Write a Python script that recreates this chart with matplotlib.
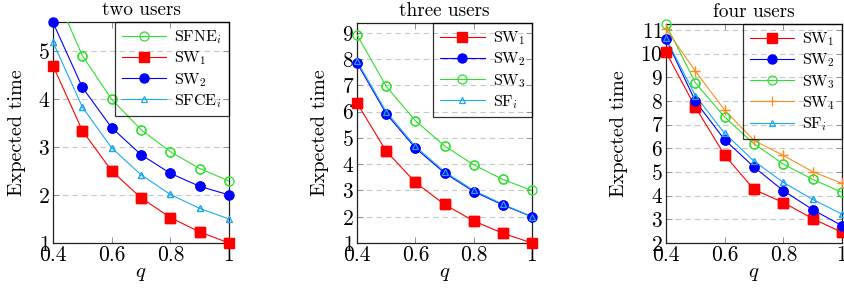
import numpy as np
import matplotlib
matplotlib.use("Agg")
import matplotlib.pyplot as plt

plt.rcParams['font.family'] = 'cmr10'
plt.rcParams['mathtext.fontset'] = 'cm'
plt.rcParams['axes.formatter.use_mathtext'] = True

# data
q = [0.4, 0.5, 0.6, 0.7, 0.8, 0.9, 1.0]

# two users
two_sfne = [6.3, 4.90, 3.99, 3.36, 2.90, 2.55, 2.29]
two_sw1 = [4.69, 3.34, 2.50, 1.94, 1.53, 1.23, 1.00]
two_sw2 = [5.59, 4.24, 3.40, 2.84, 2.45, 2.18, 2.00]
two_sfce = [5.18, 3.83, 2.98, 2.42, 2.01, 1.72, 1.50]

# three users
three_sw1 = [6.33, 4.50, 3.31, 2.47, 1.84, 1.37, 1.00]
three_sw2 = [7.86, 5.93, 4.62, 3.67, 2.96, 2.45, 2.00]
three_sw3 = [8.93, 6.97, 5.66, 4.70, 3.98, 3.42, 3.00]
three_sf = [7.93, 6.00, 4.68, 3.72, 3.00, 2.48, 2.00]

# four users
four_sw1 = [10.06, 7.74, 5.71, 4.26, 3.71, 3.03, 2.45]
four_sw2 = [10.62, 7.99, 6.36, 5.21, 4.21, 3.41, 2.73]
four_sw3 = [11.23, 8.77, 7.32, 6.19, 5.33, 4.69, 4.14]
four_sw4 = [11.04, 9.26, 7.61, 6.33, 5.70, 5.01, 4.52]
four_sf = [10.64, 8.23, 6.63, 5.46, 4.56, 3.84, 3.22]

xticks = [0.4, 0.6, 0.8, 1.0]
xticklabels = ["0.4", "0.6", "0.8", "1"]

RED = '#ff0000'
BLUE = '#0000ff'
GREEN = '#2ee02e'
CYAN = '#1ea8ee'
ORANGE = '#ff8c1f'

sty = {
    'sq': dict(marker='s', markersize=6.5, mfc=RED, mec=RED),
    'dot': dict(marker='o', markersize=6.5, mfc=BLUE, mec=BLUE),
    'oc': dict(marker='o', markersize=6.5, mfc='none', mew=0.9),
    'tri': dict(marker='^', markersize=5, mfc='none', mew=0.9),
    'plus': dict(marker='+', markersize=7, mew=0.9),
}

fig = plt.figure(figsize=(8.45, 2.95), dpi=100)
W, H = 845, 295
boxes = [(53, 229, 22, 243), (357, 532, 23, 243), (666, 842, 24, 243)]

panels = [
    ("two users", (1, 5.6), [1, 2, 3, 4, 5],
     [(two_sfne, GREEN, 'oc', r'SFNE$_i$'),
      (two_sw1, RED, 'sq', r'SW$_1$'),
      (two_sw2, BLUE, 'dot', r'SW$_2$'),
      (two_sfce, CYAN, 'tri', r'SFCE$_i$')]),
    ("three users", (1, 9.38), [1, 2, 3, 4, 5, 6, 7, 8, 9],
     [(three_sw1, RED, 'sq', r'SW$_1$'),
      (three_sw2, BLUE, 'dot', r'SW$_2$'),
      (three_sw3, GREEN, 'oc', r'SW$_3$'),
      (three_sf, CYAN, 'tri', r'SF$_i$')]),
    ("four users", (2, 11.25), [2, 3, 4, 5, 6, 7, 8, 9, 10, 11],
     [(four_sw1, RED, 'sq', r'SW$_1$'),
      (four_sw2, BLUE, 'dot', r'SW$_2$'),
      (four_sw3, GREEN, 'oc', r'SW$_3$'),
      (four_sw4, ORANGE, 'plus', r'SW$_4$'),
      (four_sf, CYAN, 'tri', r'SF$_i$')]),
]

for (l, r, t, b), (title, ylim, yticks, series) in zip(boxes, panels):
    ax = fig.add_axes([l / W, (H - b) / H, (r - l) / W, (b - t) / H])
    for vals, col, mk, lab in series:
        ax.plot(q, vals, color=col, lw=0.8, label=lab, zorder=3, **sty[mk])
        # markers on the frame edge are not cut
        y = np.array(vals)
        m = (y >= ylim[0]) & (y <= ylim[1])
        ax.plot(np.array(q)[m], y[m], ls='none', color=col, zorder=4,
                clip_on=False, **sty[mk])
    ax.set_xlim(0.4, 1.0)
    ax.set_ylim(*ylim)
    ax.set_xticks(xticks)
    ax.set_xticklabels(xticklabels)
    ax.set_yticks(yticks)
    ax.tick_params(direction='in', length=4, width=0.7, color='#909090',
                   top=True, right=True, labelsize=15.5, pad=2)
    ax.grid(axis='y', ls=(0, (5, 3.5)), color='#c8c8c8', lw=0.8)
    ax.set_axisbelow(True)
    for s in ax.spines.values():
        s.set_linewidth(0.9)
        s.set_color('#202020')
    ax.set_title(title, fontsize=13.8, pad=5)
    ax.set_xlabel(r'$q$', fontsize=15, labelpad=0)
    ax.set_ylabel('Expected time', fontsize=14.5, labelpad=9)
    leg = ax.legend(loc='upper right', borderaxespad=0, fontsize=11.5,
                    handlelength=2.8, labelspacing=0.22, fancybox=False,
                    edgecolor='black', borderpad=0.4, handletextpad=0.5)
    leg.get_frame().set_facecolor('none')
    leg.get_frame().set_linewidth(0.9)
    leg.set_zorder(5)

fig.savefig("out.png", dpi=100)
